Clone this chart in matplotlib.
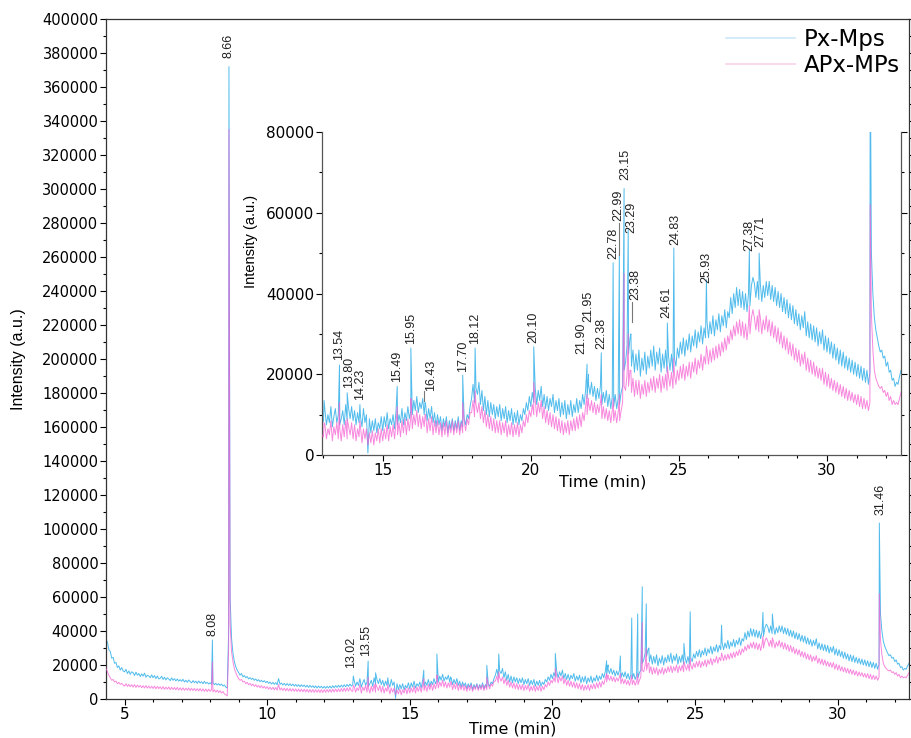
import numpy as np
import matplotlib
matplotlib.use("Agg")
import matplotlib.pyplot as plt
from matplotlib.ticker import MultipleLocator, FuncFormatter
from matplotlib.lines import Line2D
from matplotlib import font_manager

# ---------------- data (intensities in thousands of a.u.) ----------------
series_names = ["Px-Mps", "APx-MPs"]
t_start, t_step = 4.3, 0.05  # retention-time grid of the baseline samples (min)

px_base = [
    40, 35, 33.5, 29, 28, 24, 24.5, 21, 21.5, 18.5, 19.5, 17, 18.5, 16.5,
    16, 17.5, 15, 16.5, 14.5, 16, 15.5, 13.8, 15.8, 14, 15, 13.2, 14.8, 13.5, 15.2, 12.8, 14, 13.5, 12.5, 14.2,
    12.5, 13.8, 12, 13.5, 11.8, 12.2, 13.4, 11.5, 12.8, 11.2, 12.5, 11.8, 10.8, 12.4, 11, 12, 10.6, 11.8, 10.5, 11.4,
    10.4, 11.6, 10, 11, 9.8, 11.2, 10.2, 9.5, 10.8, 9.6, 10.5, 9.2, 10.6, 9.4, 10.2, 9, 10.4, 9.1, 9.8, 8.8,
    9.6, 8.6, 9.8, 8.5, 9.2, 8.2, 9, 8, 8.8, 7.6, 8.2, 7, 6.5, 40, 60, 36, 27, 22, 19, 17,
    15.5, 14, 15, 13, 13.8, 12.5, 13.2, 11.8, 12.6, 11.5, 12.2, 11, 11.8, 10.6, 11.4, 10.2, 11, 10, 10.8, 9.6,
    10.4, 9.2, 10, 8.8, 9.8, 8.6, 9.6, 8.4, 12, 8.6, 9.4, 8.2, 9.2, 8, 9.1, 7.9, 9, 7.8, 8.8, 7.6,
    8.6, 7.4, 8.5, 7.2, 8.4, 7.3, 8.2, 7, 8.1, 6.8, 8, 6.9, 7.8, 6.6, 7.7, 6.5, 7.6, 6.6, 7.5, 6.4,
    7.4, 6.3, 7.5, 6.5, 7.6, 6.4, 7.8, 6.6, 7.9, 6.8, 8.1, 6.9, 8.2, 7, 8.4, 7.2, 8.6, 7.4, 8.8, 7.6,
    8.5, 11, 7.5, 10, 8, 12, 7, 9.5, 11.5, 8, 10, 7.5, 9, 11, 7.5, 12.5, 8.5, 11.5, 9, 12,
    8.5, 11, 7.5, 10.5, 8, 9.5, 7, 11.5, 8, 10, 0.5, 9, 5.5, 8.5, 6, 9, 5.5, 8, 6.5, 9.5,
    6, 9.5, 7, 10.5, 6.5, 9, 7.5, 10, 6.5, 11, 7.5, 10, 8, 11.5, 7.5, 10.5, 8.5, 12, 9, 11,
    10, 13.5, 11, 14.5, 10.5, 13, 11.5, 14, 10, 12.5, 8.5, 11.5, 9, 12, 8, 10.5, 7, 10, 7.5, 9.5,
    6, 9, 7, 9.5, 5.5, 8.5, 6.5, 9, 6, 8.5, 6.5, 9.5, 6, 8.5, 7, 9, 7.5, 10, 9, 12,
    14, 17.5, 13, 16.5, 15, 18, 12.5, 16, 11, 14.5, 10, 13.5, 9.5, 13, 10, 12.5, 9, 12, 9.5, 12.5,
    8.5, 11.5, 9, 12, 8, 11, 8.5, 11.5, 7.5, 10.5, 8, 11, 7.5, 10, 8.5, 11.5, 10, 13, 11, 14.5,
    12, 15.5, 13, 16.5, 12.5, 16, 13.5, 17, 12, 15, 11.5, 14.5, 11, 14, 12, 15, 10.5, 13.5, 11, 14,
    9.5, 13, 10, 13.5, 9, 12.5, 10, 13.5, 9.5, 12.5, 10.5, 14, 10.5, 13.5, 11.5, 15, 12.5, 16, 14, 17.5,
    15, 18, 14.5, 17, 13.5, 16.5, 14, 17, 12.5, 15.5, 13, 16, 12, 15, 11.5, 14.5, 12, 15, 11.5, 14,
    12.5, 15.5, 17, 21, 23, 27, 25, 29, 22, 26, 20.5, 25, 21, 26, 19.5, 24, 21, 25.5, 20, 24.5,
    21.5, 26, 22, 27, 21, 25.5, 22.5, 26.5, 20.5, 25, 21.5, 26, 20.5, 24.5, 21, 25, 20.5, 24, 22, 26.5,
    24, 28, 25, 29, 24.5, 28.5, 26, 30, 25.5, 29.5, 27, 31, 26.5, 30.5, 28, 32, 27.5, 31.5, 29, 33,
    29, 33, 30, 34.5, 29.5, 33.5, 31, 35, 30.5, 34.5, 32, 36, 31.5, 35.5, 34, 39, 35, 40, 36.5, 41.5,
    37, 41, 36.5, 40.5, 36, 40, 35.5, 40, 37, 42, 44, 42.5, 39, 43, 38.5, 42.5, 38, 42, 39, 43,
    39.5, 43, 38.5, 42, 38, 41.5, 37, 40.5, 36.5, 40, 35.5, 39, 35, 38.5, 34, 37.5, 33.5, 37, 32.5, 36,
    32, 35, 31, 34.5, 31.5, 35.5, 29.5, 33, 29, 32.5, 28.5, 32, 28, 31.5, 27, 30.5, 27.5, 31, 26, 29.5,
    25.5, 29, 25, 28, 24, 27.5, 23.5, 26.5, 22.5, 26, 22, 25.5, 21.5, 24.5, 21, 24, 20.5, 23.5, 20, 23,
    19.5, 22.5, 19, 22, 18.5, 21.5, 18, 21, 17.5, 20.5, 50, 40, 34, 31, 29, 27, 25.5, 26, 24, 24.5,
    22, 23, 20.5, 21, 18.5, 19, 17, 18, 17.5, 19.5, 21,
]

apx_base = [
    22, 18, 16, 14, 12.5, 11, 11.5, 10, 10.5, 9, 9.8, 8.6, 9.2, 8.2,
    7.6, 9, 7.4, 8.6, 7.2, 8.4, 7, 8.5, 6.8, 8.2, 7, 8, 6.6, 7.8, 6.5, 7.9, 6.4, 7.6, 6.3, 7.5,
    6.2, 7.6, 6, 7.4, 6.1, 7.2, 5.8, 7.3, 5.7, 7, 5.8, 7.1, 5.5, 6.9, 5.6, 6.8, 5.4, 6.8, 5.3, 6.6,
    5.2, 6.6, 5.1, 6.4, 5.2, 6.5, 4.9, 6.3, 5, 6.2, 4.8, 6.1, 4.7, 6.2, 4.6, 6, 4.5, 5.9, 4.4, 5.8,
    4.5, 5.6, 4.2, 5.4, 4, 5.2, 3.8, 4.9, 3.5, 4.4, 3, 2.5, 1.8, 30, 45, 28, 22, 18, 15.5, 13.5,
    12, 11, 11.5, 10, 10.5, 9, 9.8, 8.4, 9.2, 7.8, 8.8, 7.4, 8.4, 7, 8, 6.6, 7.8, 6.4, 7.5, 6.2,
    7.2, 5.8, 7, 5.6, 6.9, 5.4, 6.8, 5.2, 8.5, 5.2, 6.5, 5, 6.4, 4.8, 6.3, 4.7, 6.2, 4.6, 6.1, 4.5,
    6, 4.4, 5.9, 4.3, 5.8, 4.2, 5.8, 4.1, 5.7, 4, 5.6, 4, 5.6, 3.9, 5.5, 3.9, 5.5, 3.8, 5.5, 3.8,
    5.5, 3.9, 5.6, 4, 5.7, 4, 5.8, 4.1, 5.9, 4.2, 6, 4.3, 6.2, 4.4, 6.4, 4.5, 6.6, 4.6, 6.8, 4.8,
    4.5, 7.5, 4, 6.5, 5, 8.5, 3.5, 7, 5, 8, 4, 6.5, 3.5, 7.5, 4.5, 8.5, 4, 7, 5, 8,
    4, 7.5, 3.5, 6.5, 4.5, 7, 3, 6.5, 4, 6.5, 2.5, 5.5, 3, 6, 2.5, 5.5, 3.5, 6.5, 3, 6.5,
    3.5, 6.5, 4, 7.5, 3.5, 7, 4.5, 7.5, 4, 8, 5, 8, 4.5, 8.5, 5.5, 9, 5, 9, 6, 9.5,
    6.5, 10, 7.5, 11, 7, 10, 6.5, 9.5, 7, 10, 5.5, 9, 6, 9.5, 5, 8.5, 5.5, 8.5, 5, 8,
    4.5, 8, 5, 8.5, 4.5, 7.5, 5.5, 8.5, 5, 8, 5.5, 8.5, 5, 8, 5.5, 8.5, 6, 9, 7.5, 10.5,
    10.5, 13.5, 9.5, 12.5, 10.5, 13, 9, 12, 8, 11, 7, 10, 6.5, 9.5, 6, 9, 5.5, 8.5, 5.5, 8.5,
    5, 8, 5.5, 8.5, 4.5, 7.5, 5, 8, 4.5, 7.5, 5, 8, 4.5, 7.5, 5.5, 8.5, 7, 10, 8, 11,
    9.5, 12.5, 10, 13.5, 9.5, 13, 10.5, 13.5, 9, 12, 8, 11, 7.5, 10.5, 7, 10, 6.5, 9.5, 6, 9,
    5.5, 8.5, 5, 8, 5.5, 8.5, 5, 8.5, 6, 9, 6, 9.5, 6.5, 10, 7, 10.5, 8.5, 12, 10, 13,
    11, 13.5, 10.5, 13, 10, 12.5, 10.5, 13, 9, 12, 9, 11.5, 8.5, 11, 8, 11, 8.5, 11, 8, 10.5,
    8.5, 11, 13, 17, 16, 20, 17, 21, 15.5, 19, 14.5, 18.5, 15, 18.5, 14, 17.5, 15, 18.5, 14.5, 18,
    15.5, 19, 16, 19.5, 15.5, 19, 16.5, 20, 15.5, 19.5, 16.5, 20, 16, 19.5, 17, 20.5, 16.5, 20, 17.5, 21,
    18.5, 22, 19, 22.5, 18.5, 22, 19.5, 23, 19, 23, 20.5, 24, 20, 23.5, 21.5, 25, 21, 24.5, 22.5, 26,
    22.5, 26, 23, 26.5, 23.5, 27, 24, 27.5, 24.5, 28, 25.5, 29, 26, 29.5, 27.5, 31, 28.5, 32, 29.5, 33,
    30, 33.5, 29.5, 33, 29, 32.5, 28.5, 32.5, 30, 34, 36, 34, 31, 34.5, 30.5, 34, 30, 33.5, 31, 34.5,
    30.5, 33.5, 29.5, 33, 29, 32, 28, 31.5, 27.5, 30.5, 26.5, 29.5, 26, 29, 25, 28, 24.5, 27.5, 23.5, 26.5,
    23, 26, 22, 25, 22.5, 25.5, 21, 24, 20.5, 23.5, 20, 23, 19.5, 22, 19, 21.5, 18.5, 21.5, 17.5, 20.5,
    17, 20, 16.5, 19, 16, 18.5, 15.5, 18, 15, 17.5, 14.5, 17, 14, 16.5, 13.5, 16, 13.5, 15.5, 13, 15,
    12.5, 15, 12, 14.5, 11.5, 14, 11.5, 13.5, 11, 13, 35, 26, 21, 19, 18, 17, 16.5, 17, 15.5, 16,
    14.5, 15.5, 13.5, 14.5, 12.5, 13.5, 12.5, 13, 12.5, 14, 15.5,
]

peak_times = [8.08, 8.66, 13.02, 13.54, 13.80, 14.23, 15.49, 15.95, 16.43, 17.70,
              18.12, 20.10, 21.90, 21.95, 22.38, 22.78, 22.99, 23.15, 23.29, 23.38,
              24.61, 24.83, 25.93, 27.38, 27.71, 31.46]
px_peaks = [34.7, 372, 13.5, 22.3, 15.4, 12.5, 17, 26.5, 13, 19.8,
            26.5, 26.8, 22.5, 20, 25.3, 47.6, 50, 66, 56, 30,
            32.7, 51.3, 43.4, 51, 50, 103.5]
apx_peaks = [22, 335, 8, 13, 9, 8.5, 12, 14, 10, 13,
             16, 18, 15, 14, 15, 14, 15, 45, 30, 21,
             22, 24, 27, 37, 36, 62]

main_labels = ["8.08", "8.66", "13.02", "13.55", "31.46"]
inset_labels = ["13.54", "13.80", "14.23", "15.49", "15.95", "16.43", "17.70", "18.12",
                "20.10", "21.90", "21.95", "22.38", "22.78", "22.99", "23.15", "23.29",
                "23.38", "24.61", "24.83", "25.93", "27.38", "27.71"]

main_ticks_y = list(range(0, 400001, 20000))
inset_ticks_y = [0, 20000, 40000, 60000, 80000]

# ---------------- layout (label anchor positions, style) ----------------
main_label_pos = [(8.08, 37), (8.66, 377), (12.95, 18), (13.48, 25), (31.52, 108)]
inset_label_pos = [(13.54, 23.5), (13.86, 16.5), (14.23, 13.5), (15.49, 18), (15.95, 27.5),
                   (16.62, 15.8), (17.70, 20.5), (18.12, 27.5), (20.10, 27.8), (21.70, 25),
                   (21.93, 33), (22.38, 26.3), (22.78, 48.5), (22.97, 58), (23.18, 68),
                   (23.41, 55), (23.52, 38.5), (24.58, 34), (24.88, 52), (25.93, 42.5),
                   (27.38, 50.5), (27.76, 51.5)]
leaders = [((16.38, 16.38), (13.3, 15.8)), ((22.99, 22.99), (49.5, 57.5)),
           ((23.41, 23.41), (33.0, 37.8))]

BLUE = "#3db4ea"
PINK = "#f55fd2"


def pick(fams):
    for f in fams:
        try:
            font_manager.findfont(f, fallback_to_default=False)
            return f
        except Exception:
            pass
    return "DejaVu Sans"


NARROW = pick(["Liberation Sans Narrow", "Liberation Sans", "DejaVu Sans"])
plt.rcParams["font.family"] = ["DejaVu Sans"]

# ---------------- build series ----------------
grid = t_start + t_step * np.arange(len(px_base))
t_all = np.concatenate([grid, peak_times])
order = np.argsort(t_all, kind="stable")
t_all = t_all[order]
px_all = np.concatenate([px_base, px_peaks])[order] * 1000
apx_all = np.concatenate([apx_base, apx_peaks])[order] * 1000

fig = plt.figure(figsize=(9.11, 7.38), dpi=100)
ax = fig.add_axes([106 / 911, 39 / 738, 803 / 911, 680 / 738])

fmt = FuncFormatter(lambda v, p: f"{int(round(v))}")


def draw(a):
    a.plot(t_all, px_all, color=BLUE, lw=0.7, alpha=0.9, zorder=2)
    a.plot(t_all, apx_all, color=PINK, lw=0.7, alpha=0.75, zorder=3)


draw(ax)
ax.set_xlim(4.35, 32.5)
ax.set_ylim(0, 400000)
ax.set_yticks(main_ticks_y)
ax.yaxis.set_minor_locator(MultipleLocator(10000))
ax.xaxis.set_major_locator(MultipleLocator(5))
ax.xaxis.set_minor_locator(MultipleLocator(1))
ax.yaxis.set_major_formatter(fmt)
ax.tick_params(axis="both", which="major", length=4, width=0.8, labelsize=10.5, pad=1.5, direction="out")
ax.tick_params(axis="both", which="minor", length=2.5, width=0.8, direction="out")
ax.tick_params(axis="x", which="major", labelsize=11)
ax.tick_params(right=True, which="both", direction="in")
ax.tick_params(left=True, which="both", direction="out")
for s in ax.spines.values():
    s.set_color("#333333")
    s.set_linewidth(0.9)
ax.set_xlabel("Time (min)", fontsize=11.5)
ax.xaxis.set_label_coords(0.506, -0.033)
ax.set_ylabel("Intensity (a.u.)", fontsize=11.5, family=[NARROW, "DejaVu Sans"])
ax.yaxis.set_label_coords(-0.1, 0.5)

for lab, (x, y) in zip(main_labels, main_label_pos):
    ax.text(x, y * 1000, lab, rotation=90, ha="center", va="bottom", fontsize=9,
            family=[NARROW, "DejaVu Sans"], color="#222222")

leg_handles = [Line2D([], [], color="#cde8f8", lw=1.2), Line2D([], [], color="#f9d2ec", lw=1.2)]
fig.legend(leg_handles, series_names, loc="upper right", bbox_to_anchor=(900 / 911, 1 - 28 / 738),
           frameon=False, handlelength=3.0, handletextpad=0.4, labelspacing=0.12,
           borderpad=0, borderaxespad=0, prop={"family": "DejaVu Sans", "size": 16.5})

# ---------------- inset ----------------
ai = fig.add_axes([322 / 911, (738 - 455) / 738, 579 / 911, 323 / 738])
ai.set_facecolor("white")
draw(ai)
ai.set_xlim(12.95, 32.5)
ai.set_ylim(0, 80000)
ai.set_yticks(inset_ticks_y)
ai.yaxis.set_minor_locator(MultipleLocator(10000))
ai.xaxis.set_major_locator(MultipleLocator(5))
ai.xaxis.set_minor_locator(MultipleLocator(1))
ai.yaxis.set_major_formatter(fmt)
ai.spines["top"].set_visible(False)
for k in ["left", "right", "bottom"]:
    ai.spines[k].set_color("#555555")
    ai.spines[k].set_linewidth(0.9)
ai.tick_params(axis="both", which="major", length=4, width=0.8, labelsize=11, pad=1.5, direction="out")
ai.tick_params(axis="both", which="minor", length=2.5, width=0.8, direction="out")
ai.tick_params(right=True, which="both", direction="in")
ai.tick_params(left=True, which="both", direction="out")
ai.set_xlabel("Time (min)", fontsize=11.5)
ai.xaxis.set_label_coords(0.485, -0.06)
ai.set_ylabel("Intensity (a.u.)", fontsize=10.5, family=[NARROW, "DejaVu Sans"])
ai.yaxis.set_label_coords(-0.11, 0.66)

for lab, (x, y) in zip(inset_labels, inset_label_pos):
    ai.text(x, y * 1000, lab, rotation=90, ha="center", va="bottom", fontsize=9,
            family=[NARROW, "DejaVu Sans"], color="#222222")
for xs, ys in leaders:
    ai.plot(xs, np.array(ys) * 1000, color="#777777", lw=0.8, zorder=4)

fig.savefig("out.png", dpi=100)
